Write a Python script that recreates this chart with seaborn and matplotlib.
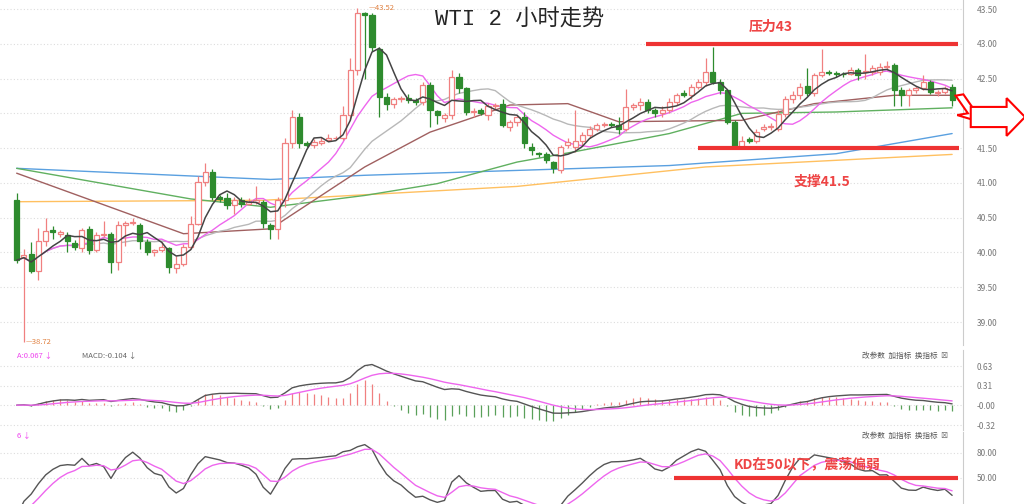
import numpy as np
import pandas as pd
import matplotlib
matplotlib.use("Agg")
import matplotlib.pyplot as plt
import seaborn as sns
from matplotlib.patches import Rectangle, FancyArrow

sns.set_style("white")
plt.rcParams['font.family'] = ['Noto Sans CJK SC', 'DejaVu Sans']

opens = [40.75,39.93,39.98,39.74,40.17,40.33,40.27,40.25,40.13,40.06,40.34,40.03,40.25,40.27,39.86,40.39,40.42,40.39,40.15,40.00,
         40.04,40.06,39.77,39.84,40.08,40.41,41.01,41.16,40.80,40.78,40.68,40.75,40.70,40.73,40.73,40.39,40.34,40.75,41.57,41.95,
         41.57,41.55,41.57,41.62,41.64,41.65,41.97,42.62,43.44,43.41,42.93,42.24,42.13,42.20,42.22,42.19,42.17,42.41,42.03,41.94,
         41.97,42.53,42.36,42.02,42.05,41.98,42.10,42.14,41.80,41.87,41.95,41.52,41.43,41.42,41.30,41.18,41.54,41.52,41.61,41.69,
         41.78,41.83,41.85,41.83,41.78,42.09,42.12,42.17,42.05,42.00,42.05,42.17,42.29,42.26,42.38,42.45,42.60,42.45,42.33,41.88,
         41.52,41.63,41.61,41.78,41.80,41.78,41.99,42.21,42.27,42.40,42.29,42.55,42.60,42.58,42.57,42.57,42.62,42.59,42.60,42.60,
         42.67,42.69,42.33,42.26,42.34,42.36,42.45,42.29,42.31,42.38]
closes = [39.89,39.96,39.74,40.17,40.31,40.29,40.29,40.17,40.08,40.32,40.03,40.25,40.27,39.86,40.39,40.42,40.44,40.17,40.01,40.03,
          40.08,39.79,39.84,40.08,40.41,41.01,41.16,40.80,40.77,40.68,40.75,40.69,40.73,40.75,40.42,40.34,40.75,41.57,41.95,41.57,
          41.55,41.59,41.61,41.64,41.65,41.97,42.62,43.44,43.42,42.96,42.24,42.14,42.20,42.22,42.19,42.16,42.41,42.05,41.97,41.98,
          42.53,42.36,42.02,42.03,42.00,42.10,42.12,41.83,41.87,41.95,41.57,41.47,41.41,41.33,41.21,41.52,41.59,41.61,41.69,41.78,
          41.83,41.85,41.83,41.78,42.09,42.12,42.17,42.05,42.00,42.05,42.17,42.27,42.27,42.38,42.45,42.60,42.45,42.33,41.88,41.52,
          41.61,41.61,41.73,41.80,41.82,41.99,42.21,42.27,42.38,42.29,42.55,42.60,42.58,42.56,42.56,42.62,42.55,42.61,42.65,42.67,
          42.68,42.33,42.26,42.33,42.36,42.45,42.31,42.31,42.36,42.19]
highs = [40.85,40.05,40.15,40.35,40.50,40.38,40.33,40.30,40.18,40.35,40.38,40.30,40.45,40.30,40.45,40.45,40.49,40.42,40.20,40.05,
         40.15,40.08,39.95,40.12,40.52,41.10,41.28,41.20,40.82,40.85,40.80,40.80,40.78,40.95,40.75,40.42,40.80,41.65,42.05,42.00,
         41.60,41.63,41.66,41.70,41.68,42.10,42.80,43.52,43.46,43.45,42.95,42.30,42.23,42.25,42.28,42.22,42.45,42.45,42.05,42.00,
         42.62,42.58,42.38,42.08,42.08,42.15,42.15,42.20,41.90,41.98,42.02,41.58,41.45,41.45,41.32,41.55,41.65,42.05,41.73,41.82,
         41.86,41.88,41.88,41.95,42.35,42.15,42.22,42.20,42.08,42.10,42.22,42.30,42.33,42.42,42.50,42.80,42.96,42.50,42.35,41.90,
         41.68,41.66,41.78,41.85,41.86,42.05,42.25,42.32,42.43,42.65,42.58,42.92,42.62,42.61,42.60,42.66,42.65,42.85,42.70,42.72,
         42.76,42.72,42.38,42.36,42.40,42.55,42.48,42.33,42.40,42.42]
lows = [39.85,38.72,39.70,39.60,40.10,40.20,40.22,40.00,40.03,40.00,39.98,40.00,40.22,39.70,39.75,40.10,40.40,40.05,39.97,39.95,
        40.00,39.70,39.70,39.80,40.05,40.40,40.95,40.75,40.72,40.62,40.55,40.65,40.68,40.70,40.35,40.20,40.20,40.65,41.50,41.50,
        41.52,41.50,41.54,41.60,41.62,41.62,41.90,42.55,42.50,42.90,41.95,42.05,42.08,42.17,42.15,42.12,42.12,41.80,41.85,41.88,
        41.92,42.30,41.97,41.95,41.97,41.90,42.05,41.80,41.75,41.82,41.50,41.40,41.38,41.28,41.15,41.15,41.50,41.45,41.55,41.65,
        41.75,41.80,41.80,41.70,41.75,42.05,42.05,42.00,41.95,41.95,42.00,42.12,42.24,42.20,42.35,42.40,42.42,42.28,41.85,41.50,
        41.50,41.58,41.58,41.75,41.76,41.75,41.95,42.15,42.20,42.25,42.25,42.52,42.55,42.53,42.53,42.55,42.48,42.50,42.55,42.55,
        42.62,42.10,42.10,42.10,42.30,42.33,42.28,42.25,42.28,42.10]

# long moving averages (candle index, price)
ma30_pts = ([0, 23, 35, 48, 57, 68, 76, 83, 100, 110, 121, 129], [41.14, 40.27, 40.34, 41.23, 41.73, 42.12, 42.14, 41.88, 41.90, 42.14, 42.26, 42.26])
ma60_pts = ([0, 24, 35, 48, 58, 69, 77, 90, 100, 113, 129], [41.21, 40.77, 40.65, 40.82, 40.99, 41.30, 41.45, 41.71, 42.00, 42.02, 42.08])
ma120_pts = ([0, 35, 48, 69, 90, 113, 129], [41.21, 41.05, 41.11, 41.18, 41.25, 41.42, 41.71])
ma250_pts = ([0, 34, 69, 95, 129], [40.73, 40.75, 40.95, 41.23, 41.41])

n = len(closes)
df = pd.DataFrame({"i": np.arange(n), "o": opens, "h": highs, "l": lows, "c": closes})
df["ma5"] = df["c"].rolling(5, min_periods=1).mean()
df["ma10"] = df["c"].rolling(10, min_periods=1).mean()
df["ma20"] = df["c"].rolling(20, min_periods=1).mean()
e12 = df["c"].ewm(span=12, adjust=False).mean()
e26 = df["c"].ewm(span=26, adjust=False).mean()
df["dif"] = e12 - e26
df["dea"] = df["dif"].ewm(span=9, adjust=False).mean()
df["bar"] = (df["dif"] - df["dea"]) * 2
llv = df["l"].rolling(9, min_periods=1).min()
hhv = df["h"].rolling(9, min_periods=1).max()
rsv = (df["c"] - llv) / (hhv - llv) * 100
df["kv"] = rsv.ewm(alpha=1/3, adjust=False).mean()
df["dv"] = df["kv"].ewm(alpha=1/3, adjust=False).mean()

W, H = 1024, 504
fig = plt.figure(figsize=(W/100, H/100), dpi=100)
def rect(x0, y0, x1, y1):
    return [x0/W, 1-y1/H, (x1-x0)/W, (y1-y0)/H]

XL = (-2.3, 130.5)
ax = fig.add_axes(rect(0, 0, 963, 345))
ax2 = fig.add_axes(rect(0, 350, 963, 430))
ax3 = fig.add_axes(rect(0, 432, 963, 504))
for a in (ax, ax2, ax3):
    a.set_xlim(*XL)
    a.set_xticks([])
    for s in ["top", "left", "bottom"]:
        a.spines[s].set_visible(False)
    a.spines["right"].set_color("#cccccc")
    a.yaxis.tick_right()
    a.tick_params(axis="y", length=0, labelsize=6, colors="#777777", pad=10)

ax.set_ylim(38.67, 43.63)
yt = np.arange(39.0, 43.51, 0.5)
ax.set_yticks(yt)
ax.set_yticklabels([f"{v:.2f}" for v in yt])
for v in yt:
    ax.axhline(v, color="#dddddd", lw=0.8, ls=(0, (1, 2)), zorder=0)

RED, GRN = "#f08080", "#2e8b2e"
for r in df.itertuples():
    up = r.c >= r.o
    col = RED if up else GRN
    ax.vlines(r.i, r.l, r.h, color=col, lw=0.9, zorder=3)
    lo, hi = min(r.o, r.c), max(r.o, r.c)
    ax.add_patch(Rectangle((r.i-0.35, lo), 0.7, max(hi-lo, 0.012),
                           facecolor="white" if up else GRN, edgecolor=col, lw=0.9, zorder=4))

sns.lineplot(x=ma250_pts[0], y=ma250_pts[1], ax=ax, color="#ffc060", lw=1, zorder=2)
sns.lineplot(x=ma120_pts[0], y=ma120_pts[1], ax=ax, color="#5aa0e0", lw=1, zorder=2)
sns.lineplot(x=ma60_pts[0], y=ma60_pts[1], ax=ax, color="#60b060", lw=1, zorder=2)
sns.lineplot(x=ma30_pts[0], y=ma30_pts[1], ax=ax, color="#a06060", lw=1, zorder=2)
sns.lineplot(data=df, x="i", y="ma20", ax=ax, color="#b8b8b8", lw=1, zorder=2)
sns.lineplot(data=df, x="i", y="ma10", ax=ax, color="#ee66ee", lw=1, zorder=2)
sns.lineplot(data=df, x="i", y="ma5", ax=ax, color="#444444", lw=1.1, zorder=5)
ax.set_xlabel(""); ax.set_ylabel("")

ax.hlines(43.0, 86.8, 129.8, color="#ee3333", lw=3, zorder=6)
ax.hlines(41.5, 94, 130, color="#ee3333", lw=3, zorder=6)
ax.text(104, 43.25, "压力43", color="#ee4444", fontsize=10, ha="center", va="center", fontweight="bold")
ax.text(111, 41.02, "支撑41.5", color="#ee4444", fontsize=10, ha="center", va="center", fontweight="bold")
ax.text(48.5, 43.52, "—43.52", color="#e08040", fontsize=5.5, va="center")
ax.text(1.3, 38.72, "—38.72", color="#e08040", fontsize=5.5, va="center")
fig.text(520/W, 1-20/H, "WTI 2 小时走势", fontsize=16, ha="center", va="center",
         family=["Liberation Mono", "Noto Sans CJK SC"])

# hollow arrows
fig.patches.append(FancyArrow(0.937, 1-95/H, 0.012, -0.035, width=0.008, head_width=0.03, head_length=0.018,
                              transform=fig.transFigure, facecolor="white", edgecolor="red", lw=1.5))
fig.patches.append(FancyArrow(0.948, 1-117/H, 0.035, 0, width=0.04, head_width=0.075, head_length=0.018,
                              transform=fig.transFigure, facecolor="white", edgecolor="red", lw=1.5))

# MACD
ax2.set_ylim(-0.40, 0.888)
mt = [0.63, 0.31, 0.0, -0.32]
ax2.set_yticks(mt); ax2.set_yticklabels(["0.63", "0.31", "-0.00", "-0.32"])
for v in mt:
    ax2.axhline(v, color="#dddddd", lw=0.8, ls=(0, (1, 2)), zorder=0)
cols = np.where(df["bar"] >= 0, "#f08080", "#5aa05a")
ax2.vlines(df["i"], 0, df["bar"], colors=cols, lw=0.9)
sns.lineplot(data=df, x="i", y="dif", ax=ax2, color="#555555", lw=1)
sns.lineplot(data=df, x="i", y="dea", ax=ax2, color="#ee66ee", lw=1)
ax2.set_xlabel(""); ax2.set_ylabel("")
ax2.text(0, 0.80, "A:0.067 ↓", color="#ee44ee", fontsize=5.5, va="center")
ax2.text(9, 0.80, "MACD:-0.104 ↓", color="#666666", fontsize=5.5, va="center")
ax2.text(128.5, 0.80, "改参数  加指标  换指标  ☒", color="#555555", fontsize=5.5, ha="right", va="center")

# KD
ax3.set_ylim(18.8, 105)
for v in [50, 80]:
    ax3.axhline(v, color="#dddddd", lw=0.8, ls=(0, (1, 2)), zorder=0)
ax3.set_yticks([50, 80]); ax3.set_yticklabels(["50.00", "80.00"])
sns.lineplot(data=df, x="i", y="kv", ax=ax3, color="#555555", lw=1)
sns.lineplot(data=df, x="i", y="dv", ax=ax3, color="#ee66ee", lw=1)
ax3.set_xlabel(""); ax3.set_ylabel("")
ax3.hlines(50, 90.7, 129.8, color="#ee3333", lw=3, zorder=6)
ax3.text(109, 67, "KD在50以下，震荡偏弱", color="#ee4444", fontsize=10, ha="center", va="center", fontweight="bold")
ax3.text(0, 100, "6 ↓", color="#ee44ee", fontsize=5.5, va="center")
ax3.text(128.5, 100, "改参数  加指标  换指标  ☒", color="#555555", fontsize=5.5, ha="right", va="center")

fig.savefig("out.png", dpi=100)
